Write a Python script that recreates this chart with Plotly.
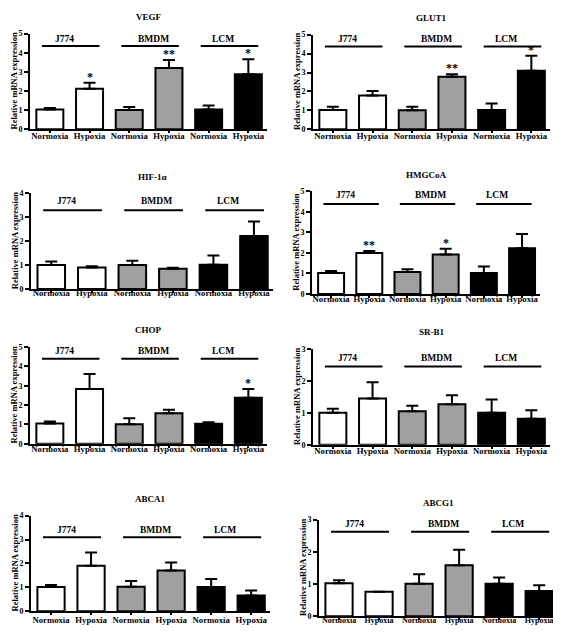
import plotly.graph_objects as go

# the page body has an 8px default margin, so the figure is drawn 8px in from the window corner
OFF = 8
W, H = 561 - OFF, 634 - OFF

titles = ["VEGF", "GLUT1", "HIF-1α", "HMGCoA", "CHOP", "SR-B1", "ABCA1", "ABCG1"]
conditions = ["Normoxia", "Hypoxia", "Normoxia", "Hypoxia", "Normoxia", "Hypoxia"]
cell_groups = ["J774", "BMDM", "LCM"]

vegf = [1.03, 2.12, 1.01, 3.20, 1.03, 2.88]
vegf_err = [0.08, 0.31, 0.15, 0.43, 0.22, 0.78]
glut1 = [1.02, 1.79, 1.00, 2.78, 1.02, 3.09]
glut1_err = [0.17, 0.23, 0.19, 0.13, 0.34, 0.79]
hif1a = [1.00, 0.90, 1.00, 0.85, 1.01, 2.22]
hif1a_err = [0.15, 0.05, 0.18, 0.04, 0.39, 0.60]
hmgcoa = [1.02, 2.00, 1.07, 1.92, 1.02, 2.22]
hmgcoa_err = [0.10, 0.09, 0.13, 0.28, 0.31, 0.70]
chop = [1.04, 2.83, 1.01, 1.58, 1.03, 2.38]
chop_err = [0.11, 0.78, 0.31, 0.18, 0.08, 0.45]
srb1 = [1.00, 1.45, 1.05, 1.27, 1.00, 0.81]
srb1_err = [0.13, 0.51, 0.17, 0.28, 0.42, 0.27]
abca1 = [1.02, 1.90, 1.03, 1.70, 1.02, 0.66]
abca1_err = [0.08, 0.56, 0.24, 0.34, 0.33, 0.21]
abcg1 = [1.02, 0.76, 1.01, 1.58, 1.01, 0.78]
abcg1_err = [0.10, 0.00, 0.29, 0.48, 0.19, 0.18]

significance = [
    ["", "*", "", "**", "", "*"],
    ["", "", "", "**", "", "*"],
    ["", "", "", "", "", ""],
    ["", "**", "", "*", "", ""],
    ["", "", "", "", "", "*"],
    ["", "", "", "", "", ""],
    ["", "", "", "", "", ""],
    ["", "", "", "", "", ""],
]
y_max = [5, 5, 4, 5, 5, 3, 4, 3]

means = [vegf, glut1, hif1a, hmgcoa, chop, srb1, abca1, abcg1]
errors = [vegf_err, glut1_err, hif1a_err, hmgcoa_err, chop_err, srb1_err, abca1_err, abcg1_err]

# layout (window pixels): left, right, top, bottom of each plot area
doms = [(30, 267, 30, 127), (313, 550, 31, 127), (31, 273, 192, 289), (312, 540, 190, 294),
        (30, 267, 348, 446), (313, 550, 350, 447), (31, 270, 519, 616), (319, 558, 523, 621)]
# group line / label heights (data units)
line_lvl = [4.35, 4.38, 3.29, 4.39, 4.40, 2.45, 3.10, 2.62]
label_lvl = [4.74, 4.78, 3.67, 4.84, 4.80, 2.72, 3.39, 2.86]
tick_standoff = [-5, -5, -7, -6, -6, -5, -3, -7]
tick_size = [8.7, 8.7, 8.7, 8.7, 8.7, 8.7, 8.7, 8.0]

fills = ["#ffffff", "#ffffff", "#a0a0a0", "#a0a0a0", "#000000", "#000000"]
FONT = "Liberation Serif"


def px_x(v):
    return (v - OFF) / W


def px_y(v):
    return 1 - (v - OFF) / H


fig = go.Figure()
layout = dict(width=W, height=H, margin=dict(l=0, r=0, t=0, b=0),
              paper_bgcolor="white", plot_bgcolor="white", showlegend=False)
annotations = []
shapes = []

for i in range(8):
    n = "" if i == 0 else str(i + 1)
    xa, ya = "x" + n, "y" + n
    l, r, t, b = doms[i]
    xs = list(range(6))
    fig.add_trace(go.Bar(
        x=xs, y=means[i], width=0.68, xaxis=xa, yaxis=ya,
        marker=dict(color=fills, line=dict(color="black", width=2)),
        error_y=dict(type="data", array=errors[i], arrayminus=[0] * 6, symmetric=False,
                     color="black", thickness=2, width=6),
    ))
    layout["xaxis" + n] = dict(
        domain=[px_x(l), px_x(r)], anchor=ya, range=[-0.5, 5.47],
        tickvals=xs, ticktext=conditions, ticks="outside", ticklen=2, tickwidth=1.5,
        tickcolor="black", showline=True, linecolor="black",
        linewidth=2, showgrid=False, zeroline=False, fixedrange=True,
        ticklabelstandoff=tick_standoff[i], ticklabeloverflow="allow",
        tickfont=dict(family=FONT, size=tick_size[i], color="black", weight="bold"))
    layout["yaxis" + n] = dict(
        domain=[px_y(b), px_y(t)], anchor=xa, range=[0, y_max[i]], dtick=1,
        ticks="outside", ticklen=4, tickwidth=2, tickcolor="black", showline=True,
        linecolor="black", linewidth=2, showgrid=False, zeroline=False,
        tickfont=dict(family=FONT, size=8, color="black", weight="bold"))
    # title
    annotations.append(dict(xref="paper", yref="paper", x=px_x((l + r) / 2), y=px_y(t - 17),
                            text=titles[i], showarrow=False, xanchor="center", yanchor="middle",
                            font=dict(family=FONT, size=9, color="black", weight="bold")))
    # y title
    annotations.append(dict(xref="paper", yref="paper", x=px_x(l - 16), y=px_y((t + b) / 2),
                            text="Relative mRNA expression", showarrow=False, textangle=-90,
                            xanchor="center", yanchor="middle",
                            font=dict(family=FONT, size=8.5, color="black", weight="bold")))
    # group lines and labels
    label_off = [-0.12, 0.1, -0.15]
    for g, name in enumerate(cell_groups):
        c = 2 * g + 0.5
        shapes.append(dict(type="line", xref=xa, yref=ya, x0=c - 0.7, x1=c + 0.75,
                           y0=line_lvl[i], y1=line_lvl[i], line=dict(color="black", width=2)))
        annotations.append(dict(xref=xa, yref=ya, x=c + label_off[g], y=label_lvl[i], text=name,
                                showarrow=False, xanchor="center", yanchor="middle",
                                font=dict(family=FONT, size=9.5, color="black", weight="bold")))
    # significance stars
    for k, s in enumerate(significance[i]):
        if s:
            annotations.append(dict(xref=xa, yref=ya, x=k, y=means[i][k] + errors[i][k], text=s,
                                    showarrow=False, xanchor="center", yanchor="middle", yshift=6,
                                    font=dict(family=FONT, size=12, color="black", weight="bold")))

layout["annotations"] = annotations
layout["shapes"] = shapes
fig.update_layout(**layout)
fig.write_html("out.html")
